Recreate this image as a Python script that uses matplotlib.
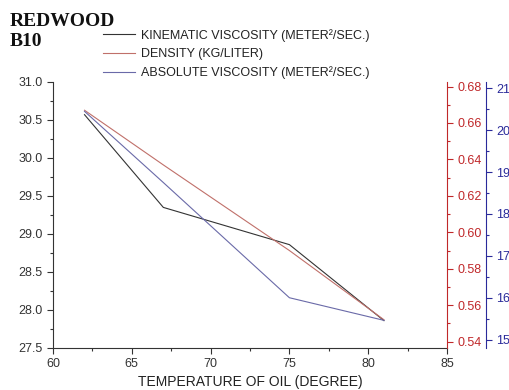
import matplotlib
matplotlib.use("Agg")
import matplotlib.pyplot as plt
from matplotlib.ticker import MultipleLocator, FormatStrFormatter

plt.rcParams['font.family'] = ['Liberation Sans', 'DejaVu Sans']

temperature = [62, 67, 75, 81]
kinematic_viscosity = [30.57, 29.35, 28.86, 27.86]
density = [0.667, 0.637, 0.590, 0.552]
absolute_viscosity = [20.45, 18.75, 16.00, 15.46]

labels = ["KINEMATIC VISCOSITY (METER²/SEC.)",
          "DENSITY (KG/LITER)",
          "ABSOLUTE VISCOSITY (METER²/SEC.)"]

W, H = 509, 390
fig = plt.figure(figsize=(W / 100, H / 100), dpi=100)
ax = fig.add_axes([53 / W, 1 - 348 / H, (447 - 53) / W, (348 - 82) / H])

axis_col = '#333333'
red_ax = '#c0282a'
blue_ax = '#2a2a9a'

l1, = ax.plot(temperature, kinematic_viscosity, color='#333333', lw=0.8)
ax.set_xlim(60, 85)
ax.set_ylim(27.5, 31.0)
ax.xaxis.set_major_locator(MultipleLocator(5))
ax.xaxis.set_minor_locator(MultipleLocator(2.5))
ax.yaxis.set_major_locator(MultipleLocator(0.5))
ax.yaxis.set_minor_locator(MultipleLocator(0.25))
ax.yaxis.set_major_formatter(FormatStrFormatter('%.1f'))
ax.spines['top'].set_visible(False)
ax.spines['right'].set_visible(False)
for s in ['left', 'bottom']:
    ax.spines[s].set_color(axis_col)
ax.tick_params(which='major', length=4, width=0.8, colors=axis_col, labelsize=9, labelcolor='#333333')
ax.tick_params(which='minor', length=2.5, width=0.8, colors=axis_col)
ax.tick_params(axis='x', pad=3)
ax.set_xlabel("TEMPERATURE OF OIL (DEGREE)", fontsize=10, color='#222222', labelpad=4)

ax2 = ax.twinx()
l2, = ax2.plot(temperature, density, color='#c0706a', lw=0.8)
ax2.set_ylim(0.5365, 0.6825)
ax2.yaxis.set_major_locator(MultipleLocator(0.02))
ax2.yaxis.set_minor_locator(MultipleLocator(0.01))
ax2.yaxis.set_major_formatter(FormatStrFormatter('%.2f'))
for s in ['top', 'left', 'bottom']:
    ax2.spines[s].set_visible(False)
ax2.spines['right'].set_color(red_ax)
ax2.tick_params(which='major', length=4, width=0.8, colors=red_ax, labelsize=9, labelcolor=red_ax)
ax2.tick_params(which='minor', length=2.5, width=0.8, colors=red_ax)

ax3 = ax.twinx()
l3, = ax3.plot(temperature, absolute_viscosity, color='#6a6aa8', lw=0.8)
ax3.set_ylim(14.8, 21.15)
ax3.yaxis.set_major_locator(MultipleLocator(1))
ax3.yaxis.set_minor_locator(MultipleLocator(0.5))
for s in ['top', 'left', 'bottom']:
    ax3.spines[s].set_visible(False)
ax3.spines['right'].set_position(('axes', 1 + 39 / 394))
ax3.spines['right'].set_color(blue_ax)
ax3.tick_params(which='major', length=4, width=0.8, colors=blue_ax, labelsize=9, labelcolor=blue_ax)
ax3.tick_params(which='minor', length=2.5, width=0.8, colors=blue_ax)

fig.text(10 / W, 1 - 21 / H, "REDWOOD", family='Liberation Serif', weight='bold',
         fontsize=14, va='center', ha='left', color='#111111')
fig.text(10 / W, 1 - 41 / H, "B10", family='Liberation Serif', weight='bold',
         fontsize=14, va='center', ha='left', color='#111111')

fig.legend([l1, l2, l3], labels, loc='upper left',
           bbox_to_anchor=(103 / W, 1 - 29 / H), frameon=False,
           borderpad=0, borderaxespad=0, handlelength=2.56, handletextpad=0.5,
           labelspacing=0.5, fontsize=9, labelcolor='#222222')

fig.savefig("out.png", dpi=100)
